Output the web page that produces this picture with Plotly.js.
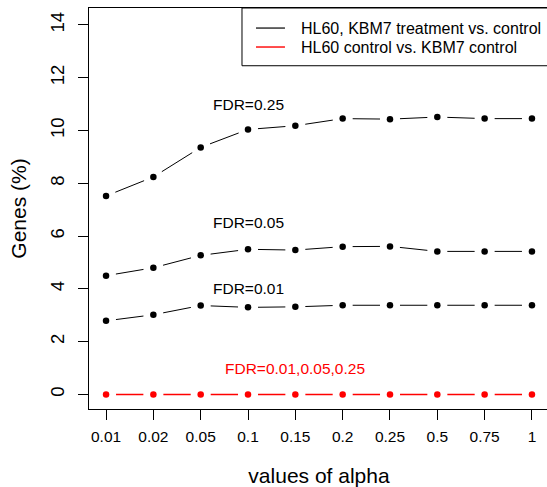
<!DOCTYPE html>
<html>
<head>
<meta charset="utf-8">
<script src="https://cdn.plot.ly/plotly-3.0.1.min.js"></script>
<style>
html, body { margin: 0; padding: 0; background: #fff; overflow: hidden; }
#chart { width: 550px; height: 487px; }
</style>
</head>
<body>
<div id="chart"></div>
<script>
// ---- data ----
var alphaLabels = ["0.01", "0.02", "0.05", "0.1", "0.15", "0.2", "0.25", "0.5", "0.75", "1"];
var fdr025 = [7.52, 8.24, 9.36, 10.04, 10.18, 10.45, 10.43, 10.51, 10.45, 10.45];
var fdr005 = [4.50, 4.80, 5.27, 5.50, 5.47, 5.60, 5.61, 5.42, 5.42, 5.42];
var fdr001 = [2.79, 3.02, 3.37, 3.30, 3.32, 3.38, 3.38, 3.38, 3.38, 3.38];
var controlAll = [0, 0, 0, 0, 0, 0, 0, 0, 0, 0];
var seriesNames = ["HL60, KBM7 treatment vs. control", "HL60 control vs. KBM7 control"];
var seriesColors = ["#000000", "#ff0000"];
var fdrLabels = ["FDR=0.25", "FDR=0.05", "FDR=0.01", "FDR=0.01,0.05,0.25"];
var yTicks = [0, 2, 4, 6, 8, 10, 12, 14];

var FONT = '"Liberation Sans", Arial, Helvetica, sans-serif';
var W = 550, H = 487, M = {l: 89, r: 1, t: 8, b: 78};
var XR = [-0.36, 9.36], YR = [-0.55, 14.64];
var xIdx = alphaLabels.map(function (_, i) { return i; });

// R type="b": leave a gap around every point, done with a dash pattern
// whose lengths follow the pixel length of each segment.
var GAP = 10;
var pxX = (W - M.l - M.r) / (XR[1] - XR[0]);
var pxY = (H - M.t - M.b) / (YR[1] - YR[0]);
function gapDash(ys) {
  var parts = ['0px', GAP + 'px'];
  for (var i = 0; i < ys.length - 1; i++) {
    var dx = (xIdx[i + 1] - xIdx[i]) * pxX, dy = (ys[i + 1] - ys[i]) * pxY;
    var L = Math.sqrt(dx * dx + dy * dy);
    parts.push(Math.max(L - 2 * GAP, 0).toFixed(2) + 'px', (2 * GAP).toFixed(2) + 'px');
  }
  return parts.join(',');
}

var allSeries = [
  {y: fdr025, name: seriesNames[0] + ' (FDR=0.25)', color: seriesColors[0], w: 1},
  {y: fdr005, name: seriesNames[0] + ' (FDR=0.05)', color: seriesColors[0], w: 1},
  {y: fdr001, name: seriesNames[0] + ' (FDR=0.01)', color: seriesColors[0], w: 1},
  {y: controlAll, name: seriesNames[1], color: seriesColors[1], w: 1.3}
];

var traces = allSeries.map(function (s) {
  return {
    x: xIdx, y: s.y, type: 'scatter', mode: 'lines+markers',
    name: s.name, showlegend: false,
    line: {color: s.color, width: s.w, dash: gapDash(s.y), simplify: false},
    marker: {color: s.color, size: 6.5, line: {width: 0}}
  };
});

// legend (R-style box in the top-right corner), in plot-area fractions
var LEG = {x0: 0.3326, x1: 1.02, y0: 0.856, y1: 1,
           lx0: 0.363, lx1: 0.426, tx: 0.4587, rows: [0.950, 0.9027]};
var shapes = [{type: 'rect', xref: 'paper', yref: 'paper', x0: LEG.x0, x1: LEG.x1, y0: LEG.y0, y1: LEG.y1,
   line: {color: '#000', width: 1}, fillcolor: '#fff', layer: 'above'}];
var annotations = [];
seriesNames.forEach(function (nm, i) {
  shapes.push({type: 'line', xref: 'paper', yref: 'paper',
    x0: LEG.lx0, x1: LEG.lx1, y0: LEG.rows[i], y1: LEG.rows[i],
    line: {color: seriesColors[i], width: i === 1 ? 1.4 : 1.2}, layer: 'above'});
  annotations.push({xref: 'paper', yref: 'paper', x: LEG.tx, y: LEG.rows[i],
    xanchor: 'left', yanchor: 'middle', text: nm, showarrow: false, borderpad: 0,
    font: {family: FONT, size: 16, color: '#000'}});
});

var annFont = {family: FONT, size: 15.5, color: '#000'};
annotations.push(
  {x: alphaLabels.indexOf('0.1'), y: 11, text: fdrLabels[0], showarrow: false, font: annFont},
  {x: alphaLabels.indexOf('0.1'), y: 6.5, text: fdrLabels[1], showarrow: false, font: annFont},
  {x: alphaLabels.indexOf('0.1'), y: 4, text: fdrLabels[2], showarrow: false, font: annFont},
  {x: alphaLabels.indexOf('0.15'), y: 1, text: fdrLabels[3], showarrow: false,
   font: {family: FONT, size: 15.5, color: '#ff0000'}}
);

var layout = {
  width: W, height: H,
  margin: {l: M.l, r: M.r, t: M.t, b: M.b},
  paper_bgcolor: '#fff', plot_bgcolor: '#fff',
  font: {family: FONT, color: '#000'},
  showlegend: false,
  xaxis: {
    range: XR,
    tickvals: xIdx, ticktext: alphaLabels,
    showline: true, mirror: true, linecolor: '#000', linewidth: 1,
    showgrid: false, zeroline: false,
    ticks: 'outside', ticklen: 10, tickcolor: '#000', tickwidth: 1,
    ticklabelstandoff: 3,
    tickfont: {family: FONT, size: 15.5, color: '#000'},
    title: {text: 'values of alpha', font: {family: FONT, size: 21, color: '#000'}, standoff: 26}
  },
  yaxis: {
    range: YR,
    tickvals: yTicks,
    showline: true, mirror: true, linecolor: '#000', linewidth: 1,
    showgrid: false, zeroline: false,
    ticks: 'outside', ticklen: 10, tickcolor: '#000', tickwidth: 1,
    tickangle: -90, ticklabelstandoff: 7,
    tickfont: {family: FONT, size: 18.5, color: '#000'},
    title: {text: 'Genes (%)', font: {family: FONT, size: 21, color: '#000'}, standoff: 14}
  },
  shapes: shapes,
  annotations: annotations
};

Plotly.newPlot('chart', traces, layout, {displayModeBar: false, staticPlot: true});
</script>
</body>
</html>
